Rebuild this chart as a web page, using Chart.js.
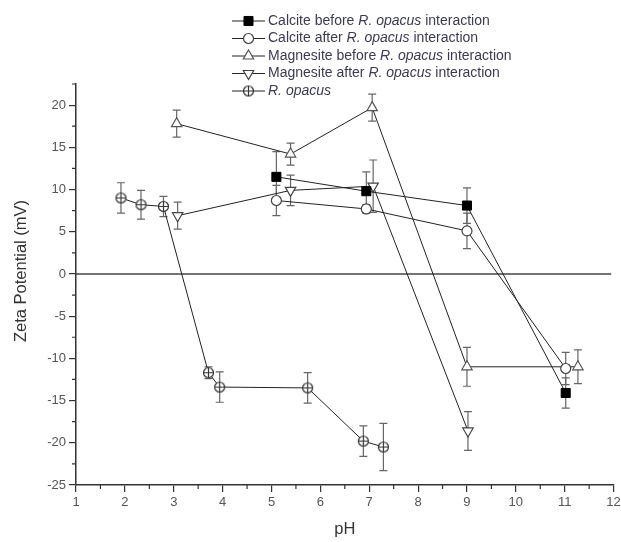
<!DOCTYPE html>
<html>
<head>
<meta charset="utf-8">
<script src="https://cdn.jsdelivr.net/npm/chart.js@4/dist/chart.umd.min.js"></script>
<style>
  html, body { margin: 0; padding: 0; background: #fff; }
  #wrap { width: 621px; height: 542px; position: relative; }
</style>
</head>
<body>
<div id="wrap"><canvas id="zeta"></canvas></div>
<script>
// series labels (legend)
const seriesLabels = [
    'Calcite before R. opacus interaction',
    'Calcite after R. opacus interaction',
    'Magnesite before R. opacus interaction',
    'Magnesite after R. opacus interaction',
    'R. opacus'
];

// values: pH, zeta potential (mV), error (+/- mV)
const calciteBeforePH = [5.1, 6.94, 9.0, 11.02];
const calciteBeforeZeta = [11.5, 9.8, 8.1, -14.1];
const calciteBeforeErr = [3.0, 2.3, 2.1, 1.8];

const calciteAfterPH = [5.1, 6.94, 9.0, 11.02];
const calciteAfterZeta = [8.7, 7.7, 5.1, -11.2];
const calciteAfterErr = [1.8, 0.5, 2.1, 1.9];

const magnesiteBeforePH = [3.06, 5.39, 7.06, 9.0, 11.27];
const magnesiteBeforeZeta = [17.8, 14.2, 19.7, -11.0, -11.0];
const magnesiteBeforeErr = [1.6, 1.3, 1.6, 2.3, 2.0];

const magnesiteAfterPH = [3.08, 5.39, 7.08, 9.02];
const magnesiteAfterZeta = [6.9, 9.9, 10.4, -18.6];
const magnesiteAfterErr = [1.6, 1.8, 3.1, 2.3];

const opacusPH = [1.92, 2.33, 2.79, 3.71, 3.94, 5.74, 6.88, 7.29];
const opacusZeta = [9.0, 8.2, 8.0, -11.7, -13.4, -13.5, -19.8, -20.5];
const opacusErr = [1.8, 1.7, 1.2, 0.7, 1.8, 1.8, 1.8, 2.8];

const FONT = '"Liberation Sans", Arial, sans-serif';

function pts(xs, ys) { return xs.map((x, i) => ({ x: x, y: ys[i] })); }

// circle with a cross, used for the R. opacus markers
function crossedCircle() {
    const c = document.createElement('canvas');
    c.width = 13; c.height = 13;
    const g = c.getContext('2d');
    g.fillStyle = '#fff';
    g.strokeStyle = '#333';
    g.lineWidth = 1.2;
    g.beginPath(); g.arc(6.5, 6.5, 5, 0, Math.PI * 2); g.fill(); g.stroke();
    g.beginPath();
    g.moveTo(1.5, 6.5); g.lineTo(11.5, 6.5);
    g.moveTo(6.5, 1.5); g.lineTo(6.5, 11.5);
    g.stroke();
    return c;
}
const crossImg = crossedCircle();

const errorBars = {
    id: 'errorBars',
    beforeDatasetsDraw(chart) {
        const { ctx, scales: { x, y } } = chart;
        ctx.save();
        // zero line
        ctx.strokeStyle = '#444';
        ctx.lineWidth = 1.5;
        ctx.beginPath();
        ctx.moveTo(x.getPixelForValue(1), y.getPixelForValue(0));
        ctx.lineTo(x.getPixelForValue(11.95), y.getPixelForValue(0));
        ctx.stroke();
        // error bars
        ctx.strokeStyle = '#666';
        ctx.lineWidth = 1.2;
        chart.data.datasets.forEach(ds => {
            ds.data.forEach((p, i) => {
                const e = ds.errors[i];
                const px = x.getPixelForValue(p.x);
                const top = y.getPixelForValue(p.y + e);
                const bot = y.getPixelForValue(p.y - e);
                ctx.beginPath();
                ctx.moveTo(px, top); ctx.lineTo(px, bot);
                ctx.moveTo(px - 4, top); ctx.lineTo(px + 4, top);
                ctx.moveTo(px - 4, bot); ctx.lineTo(px + 4, bot);
                ctx.stroke();
            });
        });
        ctx.restore();
    },
    afterDraw(chart) {
        const { ctx, scales: { x, y } } = chart;
        ctx.save();
        // minor ticks
        ctx.strokeStyle = '#333';
        ctx.lineWidth = 1.2;
        ctx.beginPath();
        for (let v = 1.5; v < 12; v += 1) {
            const px = x.getPixelForValue(v);
            ctx.moveTo(px, chart.chartArea.bottom);
            ctx.lineTo(px, chart.chartArea.bottom + 4);
        }
        for (let v = -22.5; v <= 22.5; v += 5) {
            const py = y.getPixelForValue(v);
            ctx.moveTo(chart.chartArea.left, py);
            ctx.lineTo(chart.chartArea.left - 4, py);
        }
        ctx.stroke();

        // y title, drawn by hand to sit where the original has it
        ctx.fillStyle = '#333';
        ctx.font = '16.5px ' + FONT;
        ctx.textAlign = 'center';
        ctx.textBaseline = 'middle';
        ctx.translate(21, 271);
        ctx.rotate(-Math.PI / 2);
        ctx.fillText('Zeta Potential (mV)', 0, 0);
        ctx.setTransform(1, 0, 0, 1, 0, 0);
        ctx.textAlign = 'left';

        // legend with italic species name
        chart.data.datasets.forEach((ds, i) => {
            const ly = 21 + i * 17.5;
            ctx.strokeStyle = '#222';
            ctx.lineWidth = 1;
            ctx.beginPath(); ctx.moveTo(232, ly); ctx.lineTo(265, ly); ctx.stroke();
            if (ds.pointStyle instanceof HTMLCanvasElement) {
                ctx.drawImage(ds.pointStyle, 248.5 - 6.5, ly - 6.5);
            } else {
                ctx.fillStyle = ds.pointBackgroundColor;
                ctx.strokeStyle = ds.pointBorderColor;
                ctx.lineWidth = ds.pointBorderWidth;
                Chart.helpers.drawPoint(ctx, {
                    pointStyle: ds.pointStyle, radius: ds.pointRadius,
                    rotation: ds.pointRotation || 0, borderWidth: ds.pointBorderWidth
                }, 248.5, ly);
            }
            const parts = ds.label.split('R. opacus');
            let tx = 268;
            ctx.fillStyle = '#3b3b4f';
            ctx.textBaseline = 'middle';
            parts.forEach((part, k) => {
                ctx.font = '14px ' + FONT;
                ctx.fillText(part, tx, ly);
                tx += ctx.measureText(part).width;
                if (k < parts.length - 1) {
                    ctx.font = 'italic 14px ' + FONT;
                    ctx.fillText('R. opacus', tx, ly);
                    tx += ctx.measureText('R. opacus').width;
                }
            });
        });
        ctx.restore();
    }
};

const lineStyle = { borderColor: '#222', borderWidth: 1, showLine: true, tension: 0 };

new Chart(document.getElementById('zeta'), {
    type: 'scatter',
    data: {
        datasets: [
            { ...lineStyle, label: seriesLabels[0], data: pts(calciteBeforePH, calciteBeforeZeta), errors: calciteBeforeErr,
              pointStyle: 'rect', pointRadius: 6.4, pointBackgroundColor: '#000', pointBorderColor: '#000', pointBorderWidth: 1 },
            { ...lineStyle, label: seriesLabels[1], data: pts(calciteAfterPH, calciteAfterZeta), errors: calciteAfterErr,
              pointStyle: 'circle', pointRadius: 5, pointBackgroundColor: '#fff', pointBorderColor: '#444', pointBorderWidth: 1.2 },
            { ...lineStyle, label: seriesLabels[2], data: pts(magnesiteBeforePH, magnesiteBeforeZeta), errors: magnesiteBeforeErr,
              pointStyle: 'triangle', pointRadius: 6, pointBackgroundColor: '#fff', pointBorderColor: '#555', pointBorderWidth: 1.2 },
            { ...lineStyle, label: seriesLabels[3], data: pts(magnesiteAfterPH, magnesiteAfterZeta), errors: magnesiteAfterErr,
              pointStyle: 'triangle', pointRotation: 180, pointRadius: 6, pointBackgroundColor: '#fff', pointBorderColor: '#444', pointBorderWidth: 1.2 },
            { ...lineStyle, label: seriesLabels[4], data: pts(opacusPH, opacusZeta), errors: opacusErr,
              pointStyle: crossImg, pointRadius: 6, pointBackgroundColor: '#fff', pointBorderColor: '#333', pointBorderWidth: 1.2 }
        ]
    },
    options: {
        responsive: true, maintainAspectRatio: false, animation: false,
        layout: { padding: { left: 0, right: 3, top: 84, bottom: 0 } },
        plugins: { legend: { display: false }, tooltip: { enabled: false } },
        scales: {
            x: {
                type: 'linear', min: 1, max: 12,
                ticks: { stepSize: 1, color: '#555', padding: 3, font: { family: FONT, size: 13 } },
                grid: { drawOnChartArea: false, tickLength: 7, color: '#333', lineWidth: 1.2 },
                border: { color: '#333', width: 1.5 },
                title: { display: true, text: 'pH', color: '#333', font: { family: FONT, size: 16.5 }, padding: { top: 4, bottom: 3 } },
                afterFit: s => { s.height = 57; s.paddingRight = 0; s.paddingLeft = 0; }
            },
            y: {
                type: 'linear', min: -25, max: 22.5,
                ticks: { stepSize: 5, includeBounds: false, color: '#555', padding: 3, font: { family: FONT, size: 13 } },
                grid: { drawOnChartArea: false, tickLength: 7, color: '#333', lineWidth: 1.2 },
                border: { color: '#333', width: 1.5 },
                afterFit: s => { s.width = 76; s.paddingTop = 0; s.paddingBottom = 0; }
            }
        }
    },
    plugins: [errorBars]
});
</script>
</body>
</html>
